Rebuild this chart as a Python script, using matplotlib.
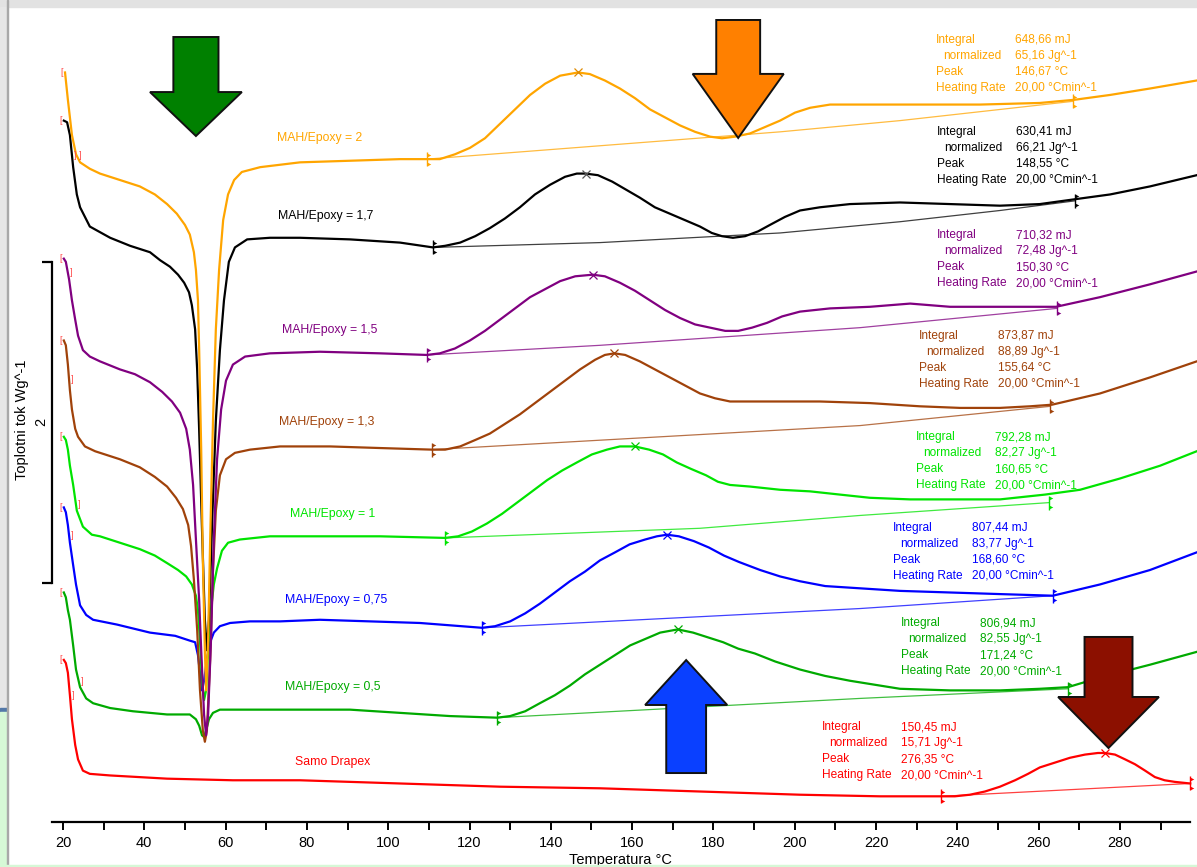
import numpy as np
import matplotlib
matplotlib.use("Agg")
import matplotlib.pyplot as plt
import matplotlib.patches as mpatches
from matplotlib.transforms import offset_copy

plt.rcParams["font.family"] = ["Liberation Sans", "DejaVu Sans"]

W, H = 1197, 867

# ---------------------------------------------------------------
# DSC traces: temperature (°C) and heat flow (W/g, stacked display)
# ---------------------------------------------------------------
t_mah20 = [20.5, 21.2, 22.2, 23.2, 24.2, 26.6, 29.1, 34.0, 38.9, 42.6, 45.6, 48.0, 50.0, 51.2, 52.2, 52.7,
           53.2, 53.5, 54.0, 54.4, 54.9, 55.2, 55.7, 56.2, 56.9, 57.6, 58.4, 59.4, 60.6, 62.1, 64.0, 68.5,
           78.3, 90.6, 102.9, 109.5, 112.7, 116.4, 120.1, 123.8, 127.5, 131.2, 134.9, 138.6, 142.3, 146.7,
           149.6, 153.3, 157.0, 160.7, 164.4, 168.1, 171.8, 175.5, 179.2, 182.1, 185.3, 189.0, 192.7, 196.4,
           200.1, 203.8, 208.7, 216.1, 230.8, 245.6, 260.3, 268.9, 277.6, 287.4, 298.9]
q_mah20 = [4.67, 4.50, 4.28, 4.16, 4.11, 4.07, 4.04, 4.00, 3.96, 3.91, 3.85, 3.79, 3.72, 3.66, 3.55, 3.44,
           3.25, 2.94, 2.32, 1.63, 1.07, 0.82, 1.13, 1.76, 2.50, 3.07, 3.44, 3.75, 3.91, 4.00, 4.05, 4.08,
           4.11, 4.12, 4.13, 4.13, 4.13, 4.16, 4.20, 4.26, 4.35, 4.44, 4.53, 4.60, 4.65, 4.67,
           4.66, 4.62, 4.57, 4.51, 4.44, 4.39, 4.34, 4.30, 4.27, 4.26, 4.27, 4.29, 4.33, 4.37,
           4.42, 4.45, 4.47, 4.47, 4.47, 4.47, 4.48, 4.50, 4.53, 4.57, 4.62]

t_mah17 = [20.2, 21.0, 21.7, 22.5, 23.4, 24.2, 26.6, 31.6, 36.5, 41.4, 43.9, 46.3, 48.3, 49.8, 51.0, 51.7,
           52.5, 53.0, 53.5, 54.2, 54.9, 55.4, 55.9, 56.7, 57.6, 58.6, 59.6, 60.8, 62.3, 65.3, 70.9, 78.3,
           90.6, 102.9, 111.0, 114.0, 117.7, 121.4, 125.0, 128.7, 132.4, 136.1, 139.8, 143.5, 146.4, 148.55,
           151.6, 155.1, 158.5, 161.9, 165.6, 169.3, 173.0, 176.7, 179.6, 182.1, 184.8, 187.8, 191.0, 193.9,
           197.6, 201.3, 206.2, 213.6, 225.9, 238.2, 250.5, 260.3, 268.9, 277.6, 287.4, 298.9]
q_mah17 = [4.37, 4.36, 4.28, 4.08, 3.91, 3.83, 3.71, 3.64, 3.59, 3.55, 3.50, 3.46, 3.41, 3.36, 3.30, 3.22,
           3.07, 2.82, 2.44, 1.82, 1.26, 1.07, 1.26, 1.88, 2.50, 2.94, 3.25, 3.49, 3.58, 3.63, 3.64, 3.64,
           3.63, 3.61, 3.58, 3.59, 3.61, 3.65, 3.70, 3.76, 3.83, 3.91, 3.97, 4.02, 4.04, 4.04,
           4.03, 3.99, 3.94, 3.89, 3.83, 3.79, 3.75, 3.71, 3.67, 3.65, 3.64, 3.65, 3.68, 3.72,
           3.77, 3.81, 3.83, 3.85, 3.86, 3.85, 3.84, 3.85, 3.88, 3.91, 3.96, 4.03]

t_mah15 = [20.2, 20.7, 21.5, 22.2, 23.0, 23.7, 24.9, 26.6, 29.1, 34.0, 37.7, 41.4, 44.4, 46.8, 48.8, 50.3,
           51.2, 52.0, 52.7, 53.5, 54.0, 54.7, 55.2, 55.7, 56.4, 57.1, 57.9, 58.9, 60.1, 61.8, 64.8, 70.9,
           83.2, 98.0, 109.5, 112.7, 116.4, 120.1, 123.8, 127.5, 131.2, 134.9, 138.6, 142.3, 146.0, 150.3,
           153.3, 157.0, 160.7, 164.4, 168.1, 171.8, 175.5, 179.2, 182.9, 186.1, 189.5, 193.2, 196.9, 201.3,
           208.7, 218.5, 228.4, 238.2, 250.5, 264.3, 275.1, 287.4, 298.9]
q_mah15 = [3.51, 3.49, 3.38, 3.25, 3.13, 3.03, 2.94, 2.90, 2.87, 2.82, 2.79, 2.74, 2.68, 2.62, 2.55, 2.45,
           2.32, 2.10, 1.76, 1.38, 1.07, 0.67, 0.54, 0.67, 1.13, 1.76, 2.26, 2.57, 2.75, 2.85, 2.90, 2.92,
           2.93, 2.92, 2.91, 2.92, 2.95, 3.00, 3.06, 3.13, 3.20, 3.27, 3.32, 3.37, 3.40, 3.41,
           3.40, 3.36, 3.31, 3.25, 3.19, 3.14, 3.10, 3.08, 3.06, 3.06, 3.08, 3.11, 3.15, 3.18,
           3.20, 3.21, 3.23, 3.21, 3.21, 3.21, 3.27, 3.35, 3.43]

t_mah13 = [20.2, 20.7, 21.2, 21.7, 22.2, 23.0, 23.7, 25.4, 27.9, 34.0, 38.9, 42.6, 45.6, 47.8, 49.5, 50.8,
           51.5, 52.2, 53.0, 53.7, 54.4, 54.9, 55.4, 56.2, 56.9, 57.6, 58.6, 60.1, 62.3, 66.0, 73.4, 85.7,
           98.0, 110.8, 114.0, 117.7, 121.4, 125.0, 128.7, 132.4, 136.1, 139.8, 143.5, 147.2, 150.9, 153.3,
           155.64, 158.3, 161.9, 165.6, 169.3, 173.0, 176.7, 180.4, 184.1, 189.0, 196.4,
           206.2, 218.5, 230.8, 240.7, 250.5, 257.9, 263.3, 275.1, 287.4, 298.9]
q_mah13 = [3.00, 2.97, 2.85, 2.69, 2.57, 2.45, 2.40, 2.34, 2.31, 2.26, 2.21, 2.15, 2.09, 2.02, 1.95, 1.85,
           1.72, 1.51, 1.20, 0.82, 0.57, 0.50, 0.57, 1.01, 1.57, 1.94, 2.16, 2.26, 2.30, 2.32, 2.34, 2.34,
           2.33, 2.32, 2.32, 2.34, 2.38, 2.42, 2.48, 2.54, 2.61, 2.68, 2.75, 2.82, 2.88, 2.91,
           2.92, 2.91, 2.87, 2.82, 2.77, 2.72, 2.67, 2.64, 2.62, 2.62, 2.62,
           2.62, 2.61, 2.59, 2.58, 2.58, 2.59, 2.60, 2.67, 2.77, 2.87]

t_mah10 = [20.2, 20.7, 21.2, 21.7, 22.5, 23.4, 24.9, 27.1, 29.1, 34.0, 38.9, 42.6, 45.8, 48.3, 50.3, 51.7,
           52.7, 53.2, 53.7, 54.2, 54.7, 55.2, 55.7, 56.4, 57.1, 57.9, 59.1, 60.6, 63.5, 70.9, 83.2, 98.0,
           114.0, 117.2, 120.6, 124.3, 128.0, 131.7, 135.4, 139.1, 142.8, 146.4, 150.1, 153.8, 157.0, 160.65,
           164.2, 167.6, 171.0, 174.5, 178.2, 181.1, 184.1, 189.0, 196.4, 203.8, 211.1,
           218.5, 228.4, 240.7, 250.5, 261.6, 270.2, 280.0, 289.9, 298.9]
q_mah10 = [2.40, 2.38, 2.32, 2.22, 2.10, 1.94, 1.84, 1.79, 1.78, 1.74, 1.70, 1.66, 1.61, 1.57, 1.53, 1.48,
           1.41, 1.32, 1.13, 0.88, 0.76, 0.82, 1.07, 1.32, 1.48, 1.58, 1.69, 1.74, 1.76, 1.78, 1.78, 1.78,
           1.77, 1.78, 1.81, 1.86, 1.92, 1.99, 2.06, 2.13, 2.19, 2.24, 2.29, 2.32, 2.34, 2.34,
           2.32, 2.29, 2.24, 2.20, 2.16, 2.12, 2.10, 2.09, 2.07, 2.06, 2.04,
           2.02, 2.01, 2.01, 2.01, 2.04, 2.07, 2.14, 2.22, 2.31]

t_mah075 = [20.2, 20.7, 21.2, 21.7, 22.5, 23.2, 24.2, 25.7, 27.4, 33.3, 41.4, 47.6, 51.2, 52.5, 53.2, 53.7,
            54.2, 54.7, 55.4, 56.2, 57.1, 58.6, 61.1, 66.0, 73.4, 83.2, 95.5, 107.8, 123.1,
            126.3, 130.0, 133.7, 137.3, 141.0, 144.7, 148.4, 152.1, 155.8, 159.4, 163.2, 166.1, 168.6, 171.5,
            175.2, 178.9, 182.6, 186.3, 191.5, 196.4, 201.3, 207.5,
            213.6, 225.9, 238.2, 250.5, 263.5, 275.1, 287.4, 298.9]
q_mah075 = [1.96, 1.93, 1.85, 1.74, 1.60, 1.48, 1.35, 1.29, 1.26, 1.23, 1.18, 1.16, 1.13, 1.12, 1.04, 0.93,
            0.82, 0.88, 1.01, 1.12, 1.18, 1.22, 1.24, 1.25, 1.25, 1.26, 1.25, 1.24, 1.21,
            1.22, 1.25, 1.30, 1.36, 1.43, 1.50, 1.56, 1.63, 1.68, 1.73, 1.76, 1.78, 1.79, 1.78,
            1.75, 1.71, 1.66, 1.62, 1.57, 1.53, 1.50, 1.47,
            1.46, 1.44, 1.43, 1.42, 1.41, 1.48, 1.57, 1.68]

t_mah05 = [20.2, 20.7, 21.2, 21.7, 22.5, 23.2, 24.2, 25.7, 27.4, 31.6, 37.2, 45.6, 51.2, 52.7, 53.5, 54.2,
           54.7, 55.2, 55.9, 56.9, 58.6, 61.8, 70.9, 78.3, 90.6, 102.9, 115.2, 126.8,
           130.0, 133.7, 137.3, 141.0, 144.7, 148.4, 152.1, 155.8, 159.5, 163.2, 166.9, 171.24, 175.0, 178.7,
           182.4, 186.1, 190.2, 195.2, 201.3, 207.5, 213.6,
           225.9, 238.2, 250.5, 260.3, 267.2, 275.1, 287.4, 298.9]
q_mah05 = [1.43, 1.40, 1.32, 1.26, 1.10, 0.95, 0.84, 0.77, 0.74, 0.71, 0.69, 0.67, 0.67, 0.64, 0.60, 0.54,
           0.53, 0.57, 0.64, 0.68, 0.70, 0.70, 0.70, 0.70, 0.70, 0.68, 0.66, 0.65,
           0.66, 0.69, 0.74, 0.79, 0.85, 0.92, 0.98, 1.04, 1.10, 1.14, 1.18, 1.20, 1.18, 1.15,
           1.12, 1.08, 1.05, 1.00, 0.95, 0.91, 0.88,
           0.83, 0.82, 0.82, 0.83, 0.84, 0.90, 0.98, 1.06]

t_drapex = [20.2, 20.7, 21.2, 21.7, 22.2, 23.0, 23.7, 24.9, 26.6, 31.6, 45.6, 61.8, 78.3, 102.9, 127.5,
            152.1, 176.7, 201.3, 221.0, 236.0, 239.4, 243.1, 246.8, 250.5, 254.2, 257.4, 260.3, 264.0,
            267.7, 271.4, 274.6, 276.35, 278.8, 281.3, 283.7, 286.2, 288.6, 291.0, 293.5, 297.3]
q_drapex = [1.01, 0.99, 0.93, 0.79, 0.64, 0.48, 0.39, 0.32, 0.30, 0.29, 0.27, 0.26, 0.26, 0.24, 0.22,
            0.21, 0.19, 0.17, 0.16, 0.16, 0.16, 0.17, 0.19, 0.22, 0.26, 0.30, 0.34, 0.37,
            0.40, 0.42, 0.43, 0.43, 0.42, 0.39, 0.36, 0.32, 0.28, 0.26, 0.25, 0.24]

# integration baselines (onset -> end)
bt_mah20, bq_mah20 = [109.5, 196.4, 225.9, 268.4], [4.13, 4.30, 4.37, 4.49]
bt_mah17, bq_mah17 = [111.0, 152.1, 196.4, 225.9, 250.5, 268.9], [3.58, 3.61, 3.67, 3.74, 3.81, 3.87]
bt_mah15, bq_mah15 = [109.5, 152.1, 216.1, 264.5], [2.91, 2.97, 3.08, 3.20]
bt_mah13, bq_mah13 = [110.8, 216.1, 262.9], [2.32, 2.47, 2.59]
bt_mah10, bq_mah10 = [114.0, 176.7, 216.1, 262.6], [1.77, 1.83, 1.91, 1.99]
bt_mah075, bq_mah075 = [123.1, 216.1, 263.5], [1.21, 1.33, 1.41]
bt_mah05, bq_mah05 = [126.8, 216.1, 267.2], [0.65, 0.77, 0.83]
bt_drapex, bq_drapex = [236.0, 297.3], [0.16, 0.24]

# peak integration results
sample_names = ["MAH/Epoxy = 2", "MAH/Epoxy = 1,7", "MAH/Epoxy = 1,5", "MAH/Epoxy = 1,3",
                "MAH/Epoxy = 1", "MAH/Epoxy = 0,75", "MAH/Epoxy = 0,5", "Samo Drapex"]
integral_mj = [648.66, 630.41, 710.32, 873.87, 792.28, 807.44, 806.94, 150.45]
normalized_jg = [65.16, 66.21, 72.48, 88.89, 82.27, 83.77, 82.55, 15.71]
peak_c = [146.67, 148.55, 150.30, 155.64, 160.65, 168.60, 171.24, 276.35]
heating_rate = [20.00] * 8
# end of the bracketed start region on each trace
bracket_end_c = [23.4, 22.2, 21.2, 21.5, 23.2, 21.5, 23.9, 21.7]

colors = ["#FFA500", "#000000", "#800080", "#A0420A", "#00E400", "#0000FF", "#00AA00", "#FF0000"]
peak_x_colors = ["#E08A00", "#555555", "#800080", "#A0420A", "#00C800", "#0000FF", "#00AA00", "#FF0000"]

curves = [(t_mah20, q_mah20), (t_mah17, q_mah17), (t_mah15, q_mah15), (t_mah13, q_mah13),
          (t_mah10, q_mah10), (t_mah075, q_mah075), (t_mah05, q_mah05), (t_drapex, q_drapex)]
baselines = [(bt_mah20, bq_mah20), (bt_mah17, bq_mah17), (bt_mah15, bq_mah15), (bt_mah13, bq_mah13),
             (bt_mah10, bq_mah10), (bt_mah075, bq_mah075), (bt_mah05, bq_mah05), (bt_drapex, bq_drapex)]

# layout (pixels): sample label left/centre, result block left/first-line centre
name_pos = [(277, 138), (278, 216), (282, 330), (279, 422), (290, 514), (285, 600), (285, 687), (295, 762)]
block_pos = [(936, 40), (937, 132), (937, 235), (919, 336), (916, 437), (893, 528), (901, 623), (822, 727)]


def fx(px):
    return px / W


def fy(py):
    return 1 - py / H


def dec(v):
    return f"{v:.2f}".replace(".", ",")


fig = plt.figure(figsize=(W / 100, H / 100), dpi=100)
fig.patch.set_facecolor("white")

# window chrome around the plot
fig.patches.append(mpatches.Rectangle((0, fy(7)), 1, 7 / H, transform=fig.transFigure,
                                      color="#E2E2E2", zorder=1))
fig.patches.append(mpatches.Rectangle((0, fy(708)), fx(7), (708 - 7) / H, transform=fig.transFigure,
                                      color="#E6E6E6", zorder=1))
fig.patches.append(mpatches.Rectangle((0, fy(712)), fx(7), 4 / H, transform=fig.transFigure,
                                      color="#5479A8", zorder=1))
fig.patches.append(mpatches.Rectangle((0, 0), fx(7), fy(712), transform=fig.transFigure,
                                      color="#D6F8D6", zorder=1))
fig.patches.append(mpatches.Rectangle((fx(7), 0), 1.2 / W, 1, transform=fig.transFigure,
                                      color="#A8A8A8", zorder=1))
fig.patches.append(mpatches.Rectangle((0, 0), 1, 2 / H, transform=fig.transFigure,
                                      color="#D6F8D6", zorder=1))

ax = fig.add_axes([fx(9), fy(822), (W - 9) / W, (822 - 8) / H])
ax.set_facecolor("none")
ax.set_xlim(20 - (63 - 9) / 4.065, 20 + (W - 63) / 4.065)
ax.set_ylim(0, 814 / 160.5)

for spine in ["top", "right"]:
    ax.spines[spine].set_visible(False)
ax.spines["bottom"].set_bounds(17.3, 297.3)
ax.spines["bottom"].set_linewidth(1.6)

# heat-flow scale bar (2 W/g) on the left spine
bar_lo = 1.49
ax.spines["left"].set_position(("data", 17.3))
ax.spines["left"].set_bounds(bar_lo, bar_lo + 2)
ax.spines["left"].set_linewidth(1.6)
ax.set_yticks([bar_lo + 1])
ax.set_yticklabels(["2"], rotation=90, va="center", fontsize=10.5)
ax.set_yticks([bar_lo, bar_lo + 2], minor=True)
ax.tick_params(axis="y", which="major", length=0, pad=3)
ax.tick_params(axis="y", which="minor", length=7, width=1.6, direction="out")
ax.set_ylabel("Toplotni tok Wg^-1", fontsize=10.5)
ax.yaxis.set_label_coords((29 - 9) / (W - 9), (822 - 420) / 814)

ax.set_xticks(range(20, 281, 20))
ax.set_xticks(range(30, 291, 20), minor=True)
ax.tick_params(axis="x", which="both", direction="out", length=6, width=1.4, labelsize=10.5, pad=4)
ax.set_xlabel("Temperatura °C", fontsize=10.5)
ax.xaxis.set_label_coords((620 - 9) / (W - 9), (822 - 860) / 814)
ax.xaxis.label.set_va("center")

# big marker arrows: centre T, tail q, tip q, shaft width, head width, head length
arrows = [(52.7, 4.891, 4.274, 11.1, 22.6, 0.274, "#008000"),
          (186.1, 4.997, 4.262, 10.8, 22.4, 0.399, "#FF8000"),
          (173.3, 0.305, 1.009, 9.8, 20.2, 0.280, "#0A40FF"),
          (277.2, 1.153, 0.461, 11.8, 24.8, 0.318, "#8C1000")]
for xc, q0, q1, sw, hw, hl, c in arrows:
    ax.add_patch(mpatches.FancyArrow(xc, q0, 0, q1 - q0, width=sw, head_width=hw, head_length=hl,
                                     length_includes_head=True, facecolor=c, edgecolor="#111111",
                                     linewidth=1.4, zorder=7))


def limit_mark(x, y, color):
    ax.plot([x], [y], marker="|", ms=10, mew=1.0, color=color, zorder=6)
    for dy in (4.5, -4.5):
        tr = offset_copy(ax.transData, fig=fig, x=1.8, y=dy, units="dots")
        ax.plot([x], [y], marker=">", ms=2.6, mew=0, color=color, transform=tr, zorder=6)


draw_order = [7, 6, 5, 4, 1, 0, 3, 2]
for i in draw_order:
    t, q = curves[i]
    bt, bq = baselines[i]
    c = colors[i]
    ax.plot(bt, bq, color=c, lw=0.9, alpha=0.75, zorder=3)
    ax.plot(t, q, color=c, lw=1.6, zorder=4, solid_joinstyle="round")
    limit_mark(bt[0], bq[0], c)
    limit_mark(bt[-1], bq[-1], c)
    pk = peak_c[i]
    ax.plot([pk], [np.interp(pk, t, q)], marker="x", ms=6, mew=0.9, color=peak_x_colors[i], zorder=5)
    # red brackets marking the start region
    ax.annotate("[", (t[0], q[0]), xytext=(-2.5, 0), textcoords="offset points", fontsize=6.5,
                color="#FF4A4A", ha="center", va="center", zorder=6)
    be = bracket_end_c[i]
    ax.annotate("]", (be, np.interp(be, t, q)), xytext=(2.5, 0), textcoords="offset points",
                fontsize=6.5, color="#FF4A4A", ha="center", va="center", zorder=6)

# sample labels and integration results
for i, name in enumerate(sample_names):
    c = colors[i]
    nx, ny = name_pos[i]
    fig.text(fx(nx), fy(ny), name, color=c, fontsize=8.8, ha="left", va="center")
    bx, by = block_pos[i]
    rows = [("Integral", 0, f"{dec(integral_mj[i])} mJ"),
            ("normalized", 7, f"{dec(normalized_jg[i])} Jg^-1"),
            ("Peak", 0, f"{dec(peak_c[i])} °C"),
            ("Heating Rate", 0, f"{dec(heating_rate[i])} °Cmin^-1")]
    for k, (lab, indent, val) in enumerate(rows):
        yy = by + 16 * k
        fig.text(fx(bx + indent), fy(yy), lab, color=c, fontsize=8.6, ha="left", va="center")
        fig.text(fx(bx + 79), fy(yy), val, color=c, fontsize=8.6, ha="left", va="center")

fig.savefig("out.png", dpi=100)
